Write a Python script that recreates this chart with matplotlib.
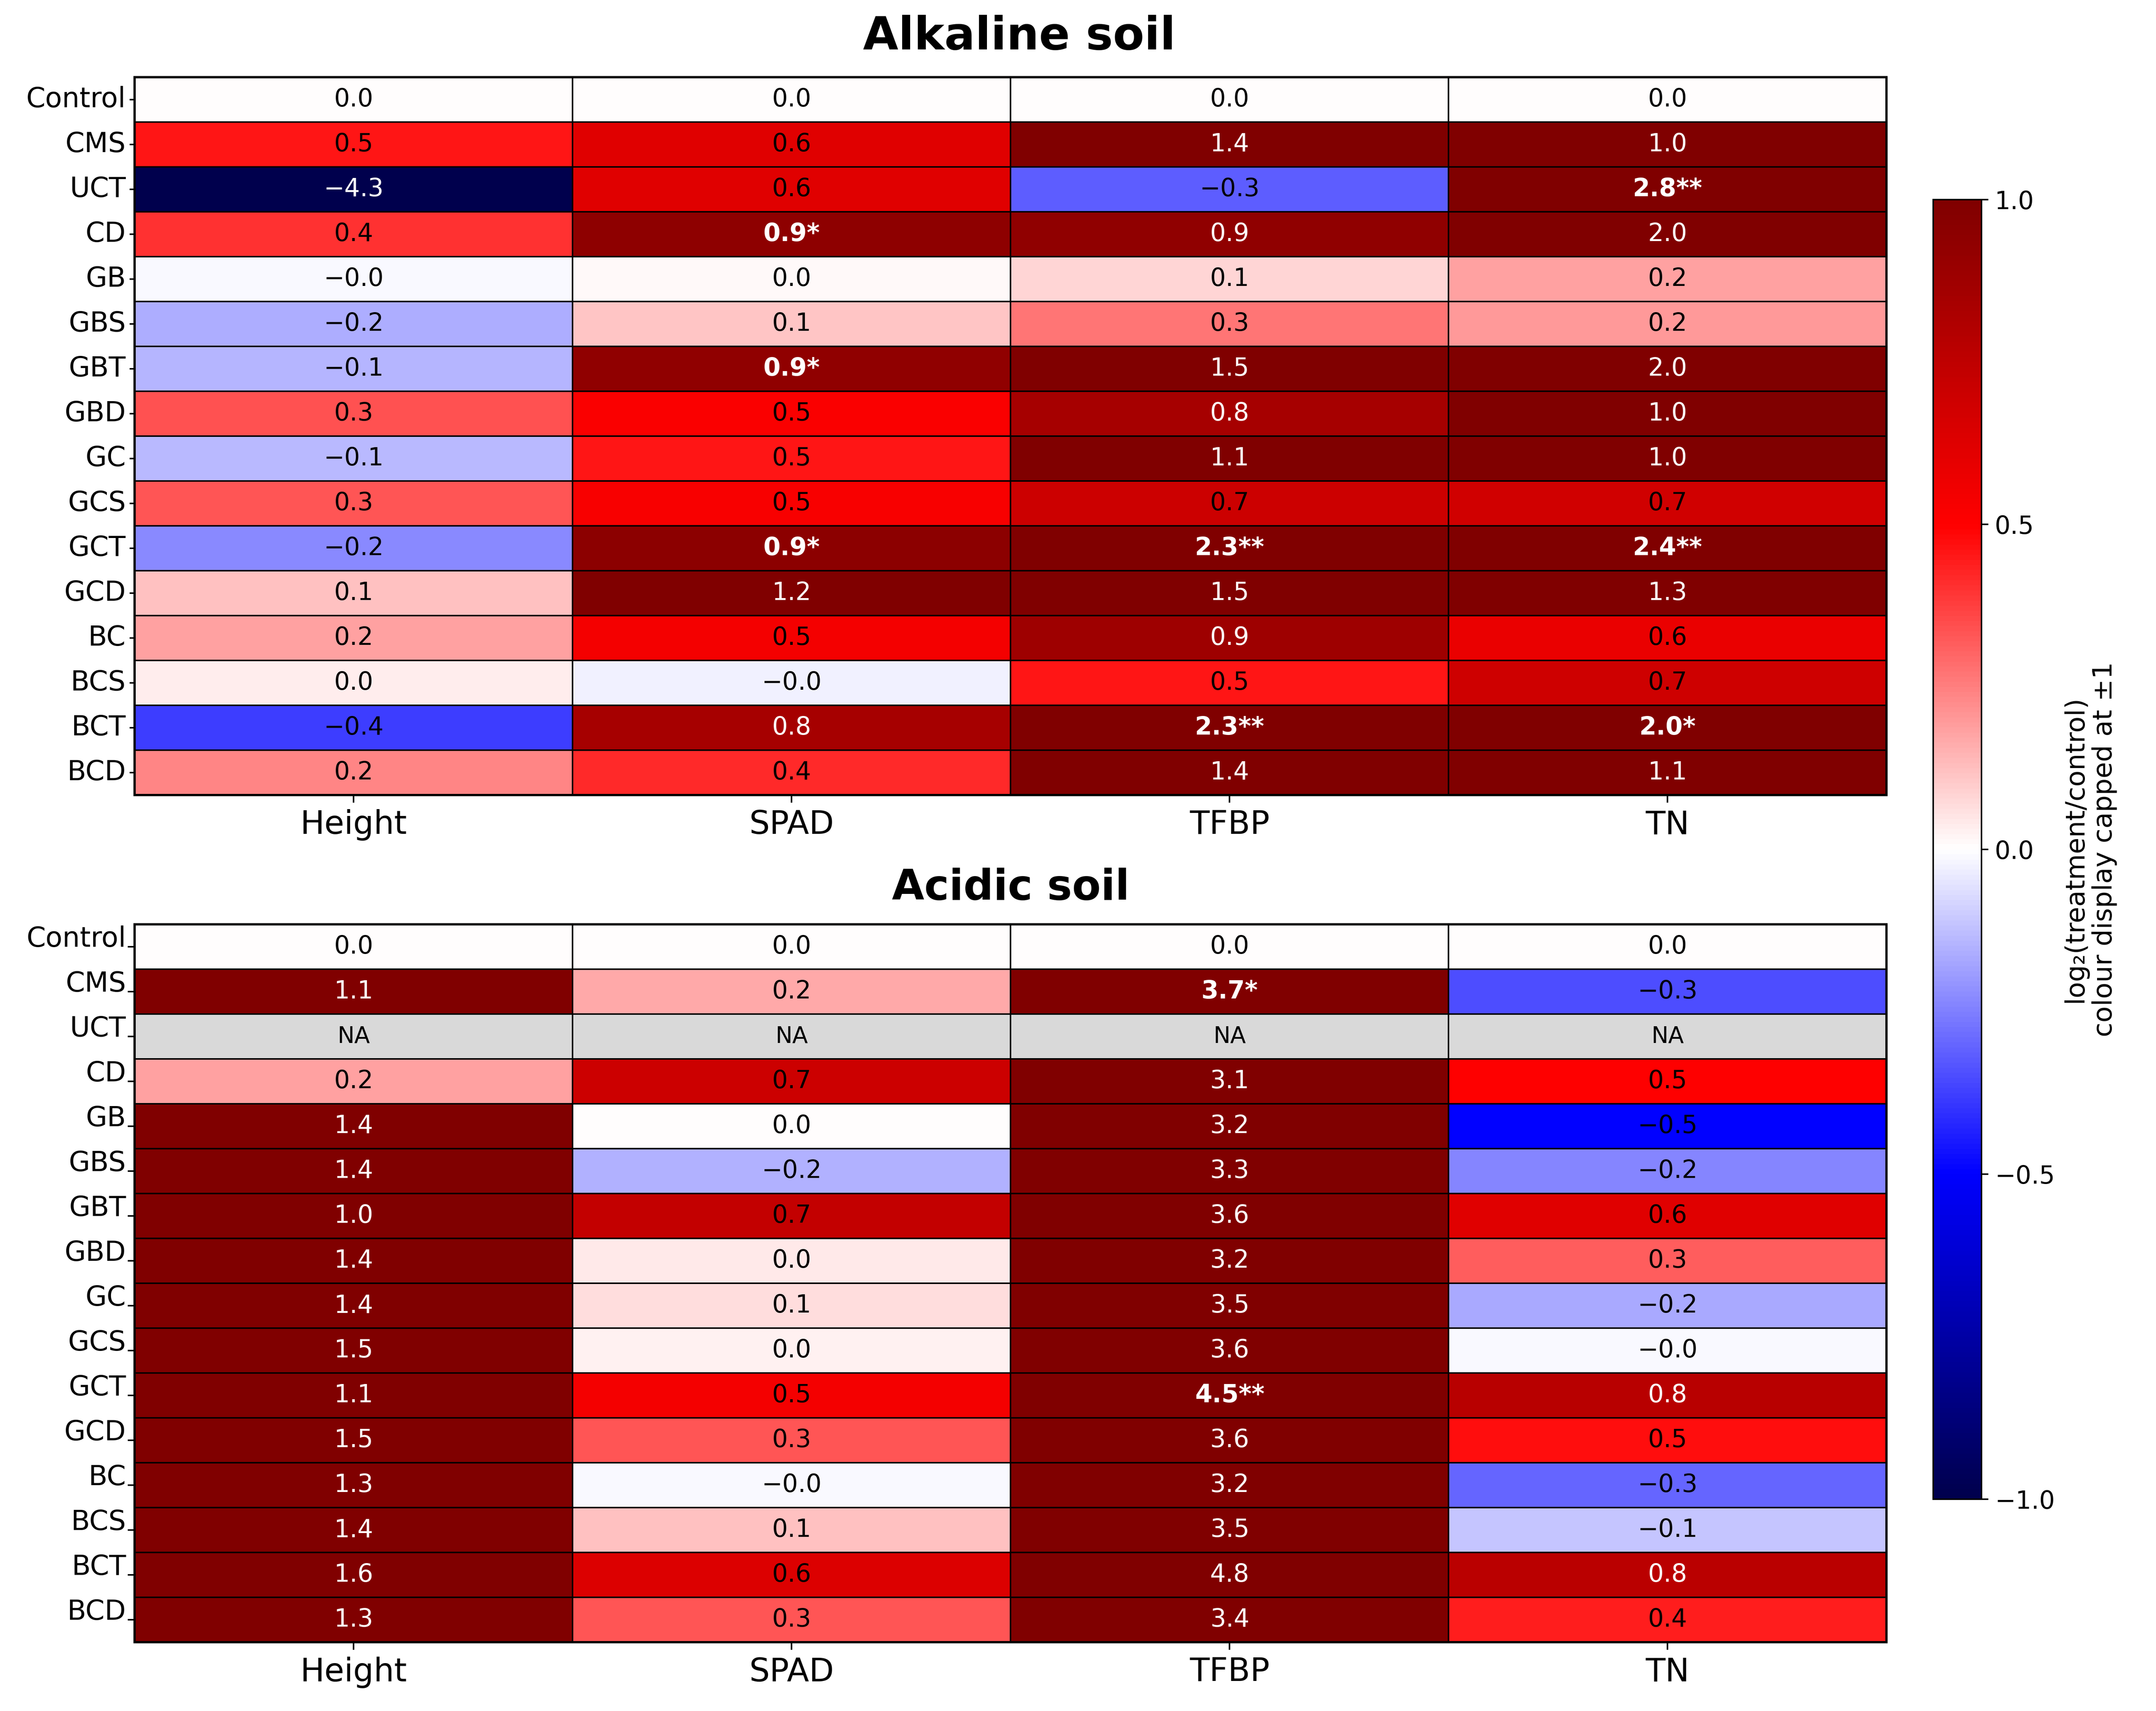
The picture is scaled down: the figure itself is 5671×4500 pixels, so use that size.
import numpy as np
import matplotlib
matplotlib.use("Agg")
import matplotlib.pyplot as plt

treatments = ["Control", "CMS", "UCT", "CD", "GB", "GBS", "GBT", "GBD",
              "GC", "GCS", "GCT", "GCD", "BC", "BCS", "BCT", "BCD"]
traits = ["Height", "SPAD", "TFBP", "TN"]

# log2(treatment/control), alkaline soil
alk_height = [0.0, 0.46, -4.3, 0.40, -0.01, -0.16, -0.145, 0.34, -0.135, 0.33, -0.23, 0.12, 0.18, 0.035, -0.38, 0.235]
alk_spad = [0.0, 0.62, 0.62, 0.94, 0.015, 0.115, 0.935, 0.52, 0.46, 0.53, 0.95, 1.2, 0.54, -0.03, 0.85, 0.42]
alk_tfbp = [0.0, 1.4, -0.32, 0.935, 0.08, 0.27, 1.5, 0.845, 1.1, 0.70, 2.3, 1.5, 0.88, 0.46, 2.3, 1.4]
alk_tn = [0.0, 1.0, 2.8, 2.0, 0.18, 0.20, 2.0, 1.0, 1.0, 0.68, 2.4, 1.3, 0.58, 0.69, 2.0, 1.1]

# acidic soil (UCT not available)
acid_height = [0.0, 1.1, np.nan, 0.18, 1.4, 1.4, 1.0, 1.4, 1.4, 1.5, 1.1, 1.5, 1.3, 1.4, 1.6, 1.3]
acid_spad = [0.0, 0.17, np.nan, 0.70, 0.002, -0.155, 0.73, 0.045, 0.07, 0.03, 0.54, 0.33, -0.015, 0.12, 0.64, 0.33]
acid_tfbp = [0.0, 3.7, np.nan, 3.1, 3.2, 3.3, 3.6, 3.2, 3.5, 3.6, 4.5, 3.6, 3.2, 3.5, 4.8, 3.4]
acid_tn = [0.0, -0.345, np.nan, 0.50, -0.50, -0.24, 0.62, 0.32, -0.165, -0.015, 0.78, 0.47, -0.30, -0.115, 0.77, 0.44]

# significance marks
alk_sig = {("CD", "SPAD"): "*", ("GBT", "SPAD"): "*", ("GCT", "SPAD"): "*",
           ("GCT", "TFBP"): "**", ("BCT", "TFBP"): "**",
           ("UCT", "TN"): "**", ("GCT", "TN"): "**", ("BCT", "TN"): "*"}
acid_sig = {("CMS", "TFBP"): "*", ("GCT", "TFBP"): "**"}

alk = np.column_stack([alk_height, alk_spad, alk_tfbp, alk_tn])
acid = np.column_stack([acid_height, acid_spad, acid_tfbp, acid_tn])

cmap = plt.get_cmap("seismic").with_extremes(bad="#d9d9d9")

fig = plt.figure(figsize=(15.753, 12.5), dpi=360)
ax1 = fig.add_axes([0.0625, 0.5354, 0.8125, 0.4196])
ax2 = fig.add_axes([0.0625, 0.0402, 0.8125, 0.4196])
cax = fig.add_axes([0.8967, 0.1238, 0.0223, 0.7596])


def draw(ax, data, sig, label_va, tick_len, tick_pad):
    m = np.ma.masked_invalid(data)
    mesh = ax.pcolormesh(m, cmap=cmap, vmin=-1, vmax=1, edgecolors="black", linewidth=0.8)
    ax.set_xlim(0, len(traits))
    ax.set_ylim(len(treatments), 0)
    ax.set_xticks(np.arange(len(traits)) + 0.5)
    ax.set_xticklabels(traits, fontsize=17)
    ax.set_yticks(np.arange(len(treatments)) + 0.5)
    ax.set_yticklabels(treatments, fontsize=14.5, va=label_va)
    ax.tick_params(axis="y", length=tick_len, pad=tick_pad)
    ax.tick_params(axis="x", length=4)
    for s in ax.spines.values():
        s.set_linewidth(1.2)
    for i, t in enumerate(treatments):
        for j, c in enumerate(traits):
            v = data[i, j]
            if np.isnan(v):
                ax.text(j + 0.5, i + 0.5, "NA", ha="center", va="center", fontsize=12, color="black")
                continue
            s = f"{v:.1f}".replace("-", "\u2212")
            star = sig.get((t, c), "")
            if star:
                ax.text(j + 0.5, i + 0.5, s + star, ha="center", va="center",
                        fontsize=13, color="white", fontweight="bold")
            else:
                col = "white" if abs(v) > 0.75 else "black"
                ax.text(j + 0.5, i + 0.5, s, ha="center", va="center", fontsize=13, color=col)
    return mesh


mesh = draw(ax1, alk, alk_sig, "center", 2.6, 2)
draw(ax2, acid, acid_sig, "baseline", 3.6, 0.9)
ax1.set_title("Alkaline soil", fontsize=24, fontweight="bold", pad=14.5, x=0.505)
ax2.set_title("Acidic soil", fontsize=22, fontweight="bold", pad=13)

cb = fig.colorbar(mesh, cax=cax)
cb.set_ticks([-1, -0.5, 0, 0.5, 1])
cb.ax.tick_params(labelsize=13)
cb.set_label("log\u2082(treatment/control)\ncolour display capped at \u00b11", fontsize=14)

fig.savefig("out.png", dpi=360)
